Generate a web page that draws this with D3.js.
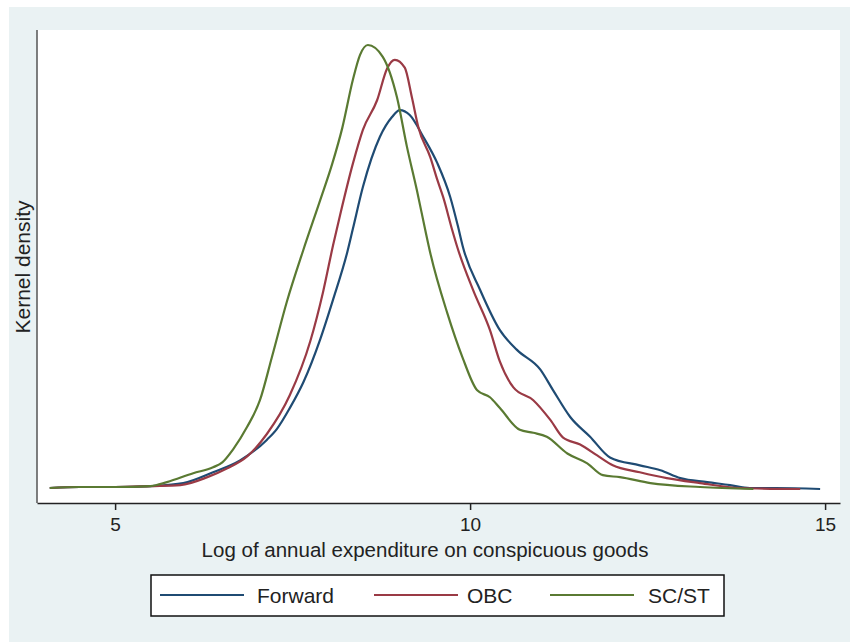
<!DOCTYPE html>
<html>
<head>
<meta charset="utf-8">
<script src="https://cdn.jsdelivr.net/npm/d3@7"></script>
<style>
  body { margin: 0; background: #fff; }
  text { font-family: "Liberation Sans", Arial, sans-serif; fill: #222; }
</style>
</head>
<body>
<svg id="chart"></svg>
<script>
// les courbes de densité (x = log dépense, y = densité)
const forwardX = [4.08, 4.5, 5.0, 5.5, 5.96, 6.38, 6.76, 7.14, 7.28, 7.46, 7.65, 7.89, 8.07, 8.27, 8.35, 8.49, 8.73, 8.9, 9.01, 9.15, 9.34, 9.54, 9.72, 9.83, 9.9, 10.14, 10.42, 10.66, 10.99, 11.17, 11.41, 11.69, 11.97, 12.39, 12.68, 12.96, 13.34, 13.66, 13.94, 14.3, 14.93];
const forwardY = [0.001, 0.002, 0.002, 0.003, 0.006, 0.017, 0.029, 0.05, 0.061, 0.082, 0.108, 0.152, 0.192, 0.24, 0.264, 0.306, 0.357, 0.377, 0.384, 0.379, 0.357, 0.33, 0.296, 0.266, 0.245, 0.202, 0.161, 0.141, 0.121, 0.1, 0.073, 0.053, 0.032, 0.024, 0.019, 0.011, 0.007, 0.004, 0.001, 0.001, 0.0];

const obcX = [4.08, 4.5, 5.0, 5.5, 5.92, 6.3, 6.58, 6.86, 7.14, 7.46, 7.75, 7.93, 8.07, 8.17, 8.35, 8.49, 8.69, 8.83, 8.94, 9.08, 9.18, 9.27, 9.44, 9.54, 9.62, 9.75, 9.82, 10.04, 10.28, 10.42, 10.61, 10.89, 11.13, 11.31, 11.55, 11.79, 12.01, 12.39, 12.77, 13.24, 13.8, 14.65];
const obcY = [0.001, 0.002, 0.002, 0.003, 0.004, 0.012, 0.021, 0.033, 0.056, 0.095, 0.15, 0.2, 0.247, 0.278, 0.33, 0.364, 0.394, 0.426, 0.435, 0.427, 0.397, 0.367, 0.336, 0.313, 0.296, 0.262, 0.245, 0.202, 0.161, 0.129, 0.103, 0.09, 0.07, 0.052, 0.045, 0.034, 0.024, 0.017, 0.011, 0.006, 0.001, 0.0];

const scstX = [4.08, 4.5, 5.0, 5.5, 5.73, 6.1, 6.38, 6.51, 6.66, 6.86, 7.04, 7.21, 7.42, 7.65, 7.89, 8.06, 8.2, 8.35, 8.45, 8.56, 8.77, 8.97, 9.11, 9.25, 9.37, 9.44, 9.68, 9.89, 10.1, 10.28, 10.42, 10.7, 10.89, 11.08, 11.37, 11.65, 11.87, 12.11, 12.54, 13.24, 13.99];
const scstY = [0.001, 0.002, 0.002, 0.003, 0.007, 0.016, 0.022, 0.027, 0.04, 0.063, 0.09, 0.134, 0.19, 0.242, 0.293, 0.33, 0.366, 0.415, 0.44, 0.45, 0.438, 0.397, 0.347, 0.303, 0.262, 0.239, 0.178, 0.134, 0.1, 0.093, 0.082, 0.06, 0.057, 0.053, 0.036, 0.026, 0.014, 0.012, 0.006, 0.002, 0.0];

const seriesNames = ["Forward", "OBC", "SC/ST"];
const seriesColors = ["#1f4b73", "#9a3a45", "#5a7a32"];
const xTicks = [5, 10, 15];

const width = 850;
const height = 642;

const svg = d3.select("#chart")
  .attr("width", width)
  .attr("height", height);

// fond gris-bleu façon Stata
svg.append("rect")
  .attr("x", 9).attr("y", 7)
  .attr("width", width - 9).attr("height", height - 7)
  .attr("fill", "#eaf2f3");

const plotLeft = 37, plotRight = 840, plotTop = 30, plotBottom = 503;

svg.append("rect")
  .attr("x", plotLeft).attr("y", plotTop)
  .attr("width", plotRight - plotLeft).attr("height", plotBottom - plotTop)
  .attr("fill", "#fff");

const x = d3.scaleLinear().domain([3.9, 15.21]).range([plotLeft, plotRight]);
const y = d3.scaleLinear().domain([-0.0142, 0.4652]).range([plotBottom, plotTop]);

const series = [
  forwardX.map((v, i) => [v, forwardY[i]]),
  obcX.map((v, i) => [v, obcY[i]]),
  scstX.map((v, i) => [v, scstY[i]])
];

const line = d3.line()
  .x(d => x(d[0]))
  .y(d => y(d[1]))
  .curve(d3.curveMonotoneX);

series.forEach((s, i) => {
  svg.append("path")
    .datum(s)
    .attr("d", line)
    .attr("fill", "none")
    .attr("stroke", seriesColors[i])
    .attr("stroke-width", 2.2)
    .attr("stroke-linejoin", "round");
});

// axe x
const xAxis = svg.append("g")
  .attr("transform", `translate(0,${plotBottom})`)
  .call(d3.axisBottom(x).tickValues(xTicks).tickSize(7).tickPadding(8).tickSizeOuter(0));
xAxis.select(".domain").attr("stroke", "#222").attr("stroke-width", 1.5);
xAxis.selectAll(".tick line").attr("stroke", "#222").attr("stroke-width", 1.5);
xAxis.selectAll(".tick text")
  .attr("font-size", 19)
  .attr("font-family", "Liberation Sans, Arial, sans-serif")
  .attr("fill", "#222");

// axe y (sans graduations)
svg.append("line")
  .attr("x1", plotLeft).attr("x2", plotLeft)
  .attr("y1", plotTop).attr("y2", plotBottom)
  .attr("stroke", "#555")
  .attr("stroke-width", 1.5);

svg.append("text")
  .text("Log of annual expenditure on conspicuous goods")
  .attr("x", 425)
  .attr("y", 557)
  .attr("text-anchor", "middle")
  .attr("font-size", 20.5);

svg.append("text")
  .text("Kernel density")
  .attr("transform", "translate(30,267) rotate(-90)")
  .attr("text-anchor", "middle")
  .attr("font-size", 21);

// légende
const legend = svg.append("g");
legend.append("rect")
  .attr("x", 151).attr("y", 575)
  .attr("width", 573).attr("height", 41)
  .attr("fill", "#fff")
  .attr("stroke", "#111")
  .attr("stroke-width", 1.5);

const legendLineX = [160, 374, 550];
const legendTextX = [257, 467, 648];
seriesNames.forEach((name, i) => {
  legend.append("line")
    .attr("x1", legendLineX[i]).attr("x2", legendLineX[i] + 84)
    .attr("y1", 595).attr("y2", 595)
    .attr("stroke", seriesColors[i])
    .attr("stroke-width", 2);
  legend.append("text")
    .text(name)
    .attr("x", legendTextX[i])
    .attr("y", 603)
    .attr("font-size", 21);
});
</script>
</body>
</html>
